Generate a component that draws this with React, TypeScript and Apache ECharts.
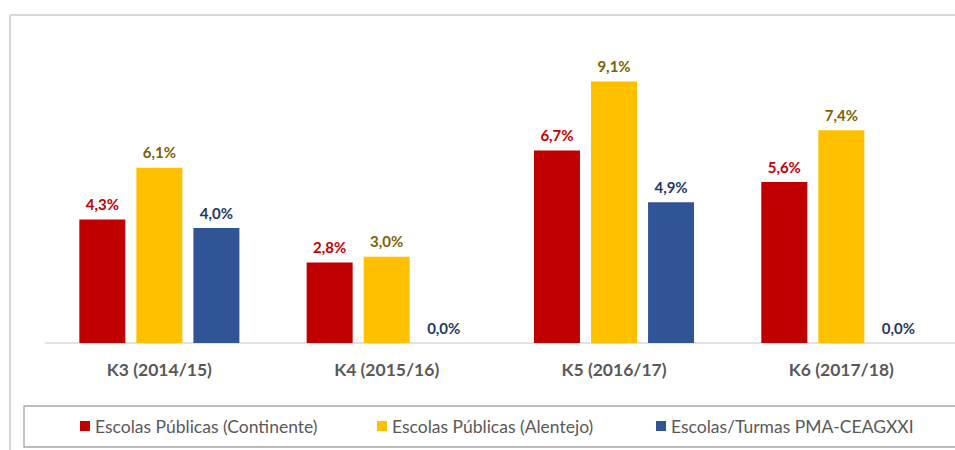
import React, { useEffect, useRef } from "react";
import * as echarts from "echarts";

const categories = ["K3 (2014/15)", "K4 (2015/16)", "K5 (2016/17)", "K6 (2017/18)"];
const seriesNames = [
  "Escolas Públicas (Continente)",
  "Escolas Públicas (Alentejo)",
  "Escolas/Turmas PMA-CEAGXXI",
];
const continente = [4.3, 2.8, 6.7, 5.6];
const alentejo = [6.1, 3.0, 9.1, 7.4];
const pma = [4.0, 0.0, 4.9, 0.0];

const barColors = ["#c00000", "#ffc000", "#2f5597"];
const labelColors = ["#c00000", "#7f6000", "#1f3864"];
const legendLefts = [80, 377, 656];

const FONT = "Lato";

export default function App() {
  const ref = useRef<HTMLDivElement>(null);
  useEffect(() => {
    if (!ref.current) return;
    const chart = echarts.init(ref.current, null, { renderer: "svg" });
    const data = [continente, alentejo, pma];
    chart.setOption({
      animation: false,
      backgroundColor: "#ffffff",
      textStyle: { fontFamily: FONT },
      grid: { left: 45.7, right: -5.4, top: 55.5, bottom: 107, containLabel: false },
      xAxis: {
        type: "category",
        data: categories,
        axisLine: { lineStyle: { color: "#d9d9d9", width: 1.5 } },
        axisTick: { show: false },
        axisLabel: {
          margin: 17,
          fontFamily: FONT,
          fontWeight: "bold",
          fontSize: 17.5,
          color: "#595959",
        },
      },
      yAxis: {
        type: "value",
        min: 0,
        max: 10,
        show: false,
        splitLine: { show: false },
      },
      legend: seriesNames.map((n, i) => ({
        data: [n],
        left: legendLefts[i],
        top: 417,
        itemWidth: 10,
        itemHeight: 10,
        icon: "rect",
        itemGap: 5,
        padding: 0,
        textStyle: { fontFamily: FONT, fontSize: 17.5, color: "#595959" },
      })),
      graphic: [
        {
          type: "line",
          shape: { x1: 10, y1: 15, x2: 10, y2: 450 },
          style: { stroke: "#d9d9d9", lineWidth: 2 },
        },
        {
          type: "line",
          shape: { x1: 10, y1: 15, x2: 955, y2: 15 },
          style: { stroke: "#d9d9d9", lineWidth: 2 },
        },
        {
          type: "rect",
          shape: { x: 24, y: 406, width: 960, height: 41 },
          style: { stroke: "#a6a6a6", lineWidth: 1.3, fill: "none" },
        },
      ],
      series: seriesNames.map((n, i) => ({
        name: n,
        type: "bar",
        data: data[i],
        barWidth: 46,
        barGap: "24%",
        itemStyle: { color: barColors[i] },
        label: {
          show: true,
          position: "top",
          distance: 8,
          fontFamily: FONT,
          fontWeight: "bold",
          fontSize: 15,
          color: labelColors[i],
          formatter: (p: any) => p.value.toFixed(1).replace(".", ",") + "%",
        },
      })),
    });
    return () => chart.dispose();
  }, []);
  return (
    <div
      ref={ref}
      style={{ position: "fixed", left: 0, top: 0, width: 955, height: 450 }}
    />
  );
}
